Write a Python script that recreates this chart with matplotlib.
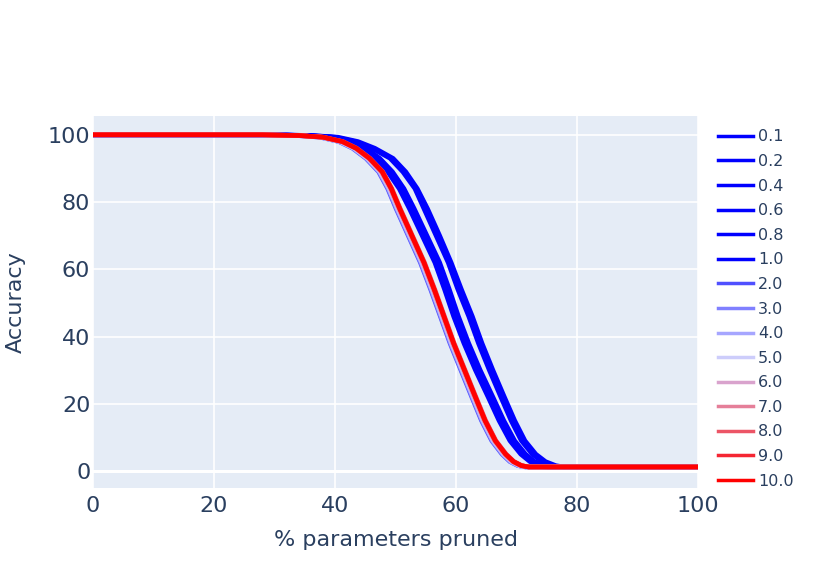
import matplotlib
matplotlib.use('Agg')
import matplotlib.pyplot as plt

# accuracy levels shared by every curve; each series holds the % pruned
# at which that curve crosses the level
acc_levels = [100, 100, 99.8, 99.3, 98, 96, 93, 89, 84, 78, 70, 62,
              54, 46, 38, 30, 22, 15, 9, 5, 2.8, 1.6, 1.2, 1.2]

labels = ['0.1', '0.2', '0.4', '0.6', '0.8', '1.0', '2.0', '3.0',
          '4.0', '5.0', '6.0', '7.0', '8.0', '9.0', '10.0']

x_01 = [0, 30, 36.2, 40.5, 43.8, 46.6, 49.6, 51.7, 53.6, 55.3, 57.3, 59.2, 60.9, 62.7, 64.3, 66.1, 68.0, 69.7, 71.4, 73.2, 74.8, 76.5, 77.8, 100]
x_02 = [0, 30, 35.9, 40.0, 43.3, 46.1, 49.1, 51.2, 53.2, 54.7, 56.7, 58.7, 60.3, 62.1, 63.7, 65.5, 67.4, 69.1, 70.8, 72.6, 74.2, 75.9, 77.2, 100]
x_04 = [0, 29, 35.2, 39.6, 42.6, 45.1, 47.4, 49.5, 51.4, 53.1, 55.2, 57.3, 58.9, 60.4, 62.1, 64.0, 66.1, 67.9, 69.7, 71.5, 73.0, 74.5, 75.4, 100]
x_06 = [0, 29, 35.1, 39.4, 42.4, 44.9, 47.2, 49.3, 51.2, 52.9, 55.0, 57.1, 58.7, 60.2, 61.9, 63.8, 65.9, 67.7, 69.5, 71.3, 72.8, 74.3, 75.1, 100]
x_08 = [0, 29, 34.8, 39.1, 42.1, 44.6, 46.9, 49.0, 50.9, 52.6, 54.7, 56.8, 58.4, 59.9, 61.6, 63.5, 65.6, 67.4, 69.2, 71.0, 72.5, 74.0, 74.8, 100]
x_10 = [0, 29, 34.5, 38.8, 41.8, 44.3, 46.6, 48.7, 50.6, 52.3, 54.4, 56.5, 58.1, 59.6, 61.3, 63.2, 65.3, 67.1, 68.9, 70.7, 72.2, 73.7, 74.5, 100]
x_20 = [0, 28, 33.6, 37.5, 40.6, 42.9, 45.1, 47.2, 48.7, 50.1, 52.1, 54.1, 55.8, 57.4, 59.0, 60.8, 62.6, 64.2, 65.9, 67.6, 68.9, 70.2, 71.5, 100]
x_30 = [0, 28, 33.6, 37.6, 40.7, 43.0, 45.2, 47.3, 48.8, 50.2, 52.2, 54.2, 55.9, 57.5, 59.1, 60.9, 62.7, 64.3, 66.0, 67.7, 69.0, 70.3, 71.5, 100]
x_40 = [0, 28, 33.7, 37.6, 40.8, 43.1, 45.3, 47.4, 48.9, 50.3, 52.3, 54.3, 56.0, 57.6, 59.2, 61.0, 62.8, 64.4, 66.1, 67.8, 69.1, 70.4, 71.6, 100]
x_50 = [0, 28, 33.7, 37.7, 40.9, 43.2, 45.4, 47.5, 49.0, 50.4, 52.4, 54.4, 56.1, 57.7, 59.3, 61.1, 62.9, 64.5, 66.2, 67.9, 69.2, 70.5, 71.7, 100]
x_60 = [0, 28, 33.8, 37.8, 41.0, 43.3, 45.5, 47.6, 49.1, 50.5, 52.5, 54.5, 56.2, 57.8, 59.4, 61.2, 63.0, 64.6, 66.3, 68.0, 69.3, 70.6, 71.8, 100]
x_70 = [0, 28, 33.9, 37.9, 41.1, 43.4, 45.6, 47.7, 49.2, 50.6, 52.6, 54.6, 56.3, 57.9, 59.5, 61.3, 63.1, 64.7, 66.4, 68.1, 69.4, 70.7, 71.9, 100]
x_80 = [0, 28, 34.1, 38.1, 41.3, 43.6, 45.8, 47.9, 49.4, 50.8, 52.8, 54.8, 56.5, 58.1, 59.7, 61.5, 63.3, 64.9, 66.6, 68.3, 69.6, 70.9, 72.0, 100]
x_90 = [0, 28, 34.0, 38.0, 41.2, 43.5, 45.7, 47.8, 49.3, 50.7, 52.7, 54.7, 56.4, 58.0, 59.6, 61.4, 63.2, 64.8, 66.5, 68.2, 69.5, 70.8, 72.0, 100]
x_100 = [0, 28, 34.0, 38.0, 41.2, 43.5, 45.7, 47.8, 49.3, 50.7, 52.7, 54.7, 56.4, 58.0, 59.6, 61.4, 63.2, 64.8, 66.5, 68.2, 69.5, 70.8, 72.0, 100]

series_x = [x_01, x_02, x_04, x_06, x_08, x_10, x_20, x_30,
            x_40, x_50, x_60, x_70, x_80, x_90, x_100]

colors = ['#0000ff', '#0000ff', '#0000ff', '#0000ff', '#0000ff', '#0000ff',
          '#5050ff', '#8080ff', '#a6a6ff', '#cdcdfb', '#d9a3cd', '#e57f99',
          '#ec5566', '#f52633', '#ff0000']

TXT = '#2a3f5f'

fig = plt.figure(figsize=(8.14, 5.82), dpi=100)
ax = fig.add_axes([0.1143, 0.1615, 0.7432, 0.6392])
ax.set_facecolor('#E5ECF6')

for xs, lab, c in zip(series_x, labels, colors):
    ax.plot(xs, acc_levels, color=c, lw=3.3, label=lab)

ax.set_xlim(0, 100)
ax.set_ylim(-5.06, 105.6)
ax.set_xticks([0, 20, 40, 60, 80, 100])
ax.set_yticks([0, 20, 40, 60, 80, 100])
ax.grid(True, color='white', lw=1.2)
ax.axhline(0, color='white', lw=2.2, zorder=0.9)
ax.set_axisbelow(True)
for s in ax.spines.values():
    s.set_visible(False)
ax.tick_params(length=0, labelsize=16, colors=TXT)
ax.tick_params(axis='x', pad=6)
ax.tick_params(axis='y', pad=2)
ax.set_xlabel('% parameters pruned', fontsize=16, color=TXT, labelpad=10)
ax.set_ylabel('Accuracy', fontsize=16, color=TXT, labelpad=16)

leg = ax.legend(loc='upper left', bbox_to_anchor=(1.023, 0.981), frameon=False,
                fontsize=11.5, labelcolor=TXT, handlelength=2.2,
                labelspacing=0.6, handletextpad=0.3, borderaxespad=0)
for h in leg.get_lines():
    h.set_linewidth(2.5)

fig.savefig('out.png', dpi=100)
